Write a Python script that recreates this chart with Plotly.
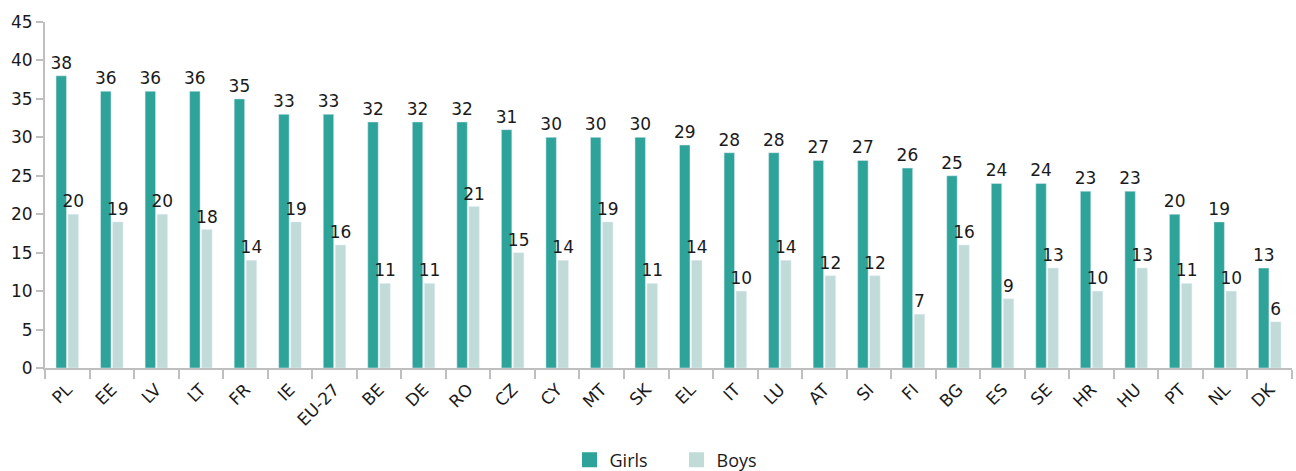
import plotly.graph_objects as go

countries = ["PL", "EE", "LV", "LT", "FR", "IE", "EU-27", "BE", "DE", "RO", "CZ", "CY",
             "MT", "SK", "EL", "IT", "LU", "AT", "SI", "FI", "BG", "ES", "SE", "HR",
             "HU", "PT", "NL", "DK"]
girls = [38, 36, 36, 36, 35, 33, 33, 32, 32, 32, 31, 30, 30, 30, 29, 28, 28, 27, 27, 26,
         25, 24, 24, 23, 23, 20, 19, 13]
boys = [20, 19, 20, 18, 14, 19, 16, 11, 11, 21, 15, 14, 19, 11, 14, 10, 14, 12, 12, 7,
        16, 9, 13, 10, 13, 11, 10, 6]

GIRLS_COLOR = "#2ea39a"
BOYS_COLOR = "#c0dbd8"
AXIS_COLOR = "#bfbfbf"
FONT = "DejaVu Sans"
TEXT_COLOR = "#1a1a1a"

fig = go.Figure()
for name, values, color in [("Girls", girls, GIRLS_COLOR), ("Boys", boys, BOYS_COLOR)]:
    fig.add_trace(go.Bar(
        name=name, x=countries, y=values, marker_color=color,
        text=values, textposition="outside", cliponaxis=False,
        constraintext="none", showlegend=False, legendgroup=name,
        textfont=dict(family=FONT, size=17, color=TEXT_COLOR),
    ))

# Larger square swatches for the legend
for name, color in [("Girls", GIRLS_COLOR), ("Boys", BOYS_COLOR)]:
    fig.add_trace(go.Scatter(
        name=name, x=[None], y=[None], mode="markers", legendgroup=name,
        marker=dict(symbol="square", size=15, color=color),
    ))

fig.update_layout(
    width=1296, height=471,
    margin=dict(l=45, r=4, t=22, b=103, autoexpand=False),
    plot_bgcolor="white", paper_bgcolor="white",
    barmode="group", bargap=0.46, bargroupgap=0.13,
    showlegend=True,
    legend=dict(orientation="h", x=0.522, xanchor="center", xref="container",
                y=0.023, yanchor="middle", yref="container",
                font=dict(family="Open Sans", size=18, color=TEXT_COLOR),
                traceorder="normal", itemsizing="trace",
                entrywidth=62, entrywidthmode="pixels"),
    font=dict(family=FONT, size=17, color=TEXT_COLOR),
)
fig.update_xaxes(
    type="category", showline=True, linecolor=AXIS_COLOR, linewidth=2,
    ticks="outside", tickson="boundaries", ticklen=9, tickcolor=AXIS_COLOR, tickwidth=2,
    tickangle=-45, tickfont=dict(family=FONT, size=17, color=TEXT_COLOR),
    ticklabelstandoff=3, showgrid=False, automargin=False,
)
fig.update_yaxes(
    range=[0, 45], dtick=5, showline=True, linecolor=AXIS_COLOR, linewidth=2,
    ticks="outside", ticklen=7, tickcolor=AXIS_COLOR, tickwidth=2,
    tickfont=dict(family=FONT, size=17, color=TEXT_COLOR),
    showgrid=False, zeroline=False, automargin=False,
)

fig.write_html("out.html")
